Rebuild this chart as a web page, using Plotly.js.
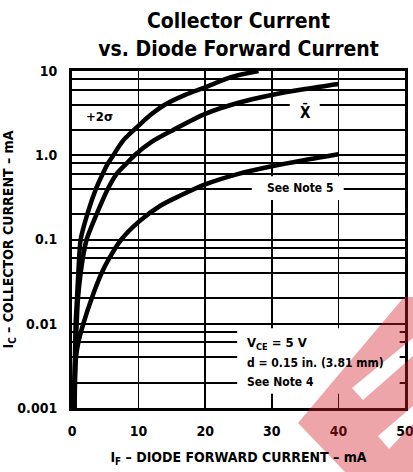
<!DOCTYPE html>
<html>
<head>
<meta charset="utf-8">
<script src="https://cdn.plot.ly/plotly-3.0.1.min.js"></script>
<style>html,body{margin:0;padding:0;background:#fff;}#chart{width:413px;height:472px;}</style>
</head>
<body>
<div id="chart"></div>
<script>
// ---- data ----
const xPlus2Sigma = [0.3, 0.35, 0.45, 0.55, 0.75, 0.95, 1.3, 2.3, 3.6, 4.6, 5.4, 6.2, 7.7, 9.3, 10, 12, 14, 17, 20, 24, 28];
const yPlus2Sigma = [0.001, 0.002, 0.004, 0.01, 0.02, 0.04, 0.1, 0.2, 0.4, 0.6, 0.8, 1.0, 1.5, 2.0, 2.25, 3.1, 4.0, 5.2, 6.4, 8.5, 10];

const xMean = [0.35, 0.4, 0.5, 0.7, 0.9, 1.3, 1.7, 2.2, 3.7, 5.4, 6.7, 8.2, 9.4, 12, 15.2, 20, 25, 30, 35, 40];
const yMean = [0.001, 0.002, 0.004, 0.01, 0.02, 0.04, 0.065, 0.1, 0.2, 0.4, 0.6, 0.8, 1.0, 1.45, 2.0, 3.1, 4.2, 5.2, 6.1, 7.0];

const xNote5 = [0.4, 0.45, 0.6, 0.95, 1.7, 2.95, 4.45, 5.6, 7.4, 10, 13.2, 16.2, 20, 25, 30, 35, 40];
const yNote5 = [0.001, 0.002, 0.004, 0.006, 0.01, 0.02, 0.04, 0.06, 0.1, 0.162, 0.25, 0.33, 0.45, 0.6, 0.74, 0.88, 1.03];

const xTickVals = [0, 10, 20, 30, 40, 50];
const xTickText = ["0", "10", "20", "30", "40", "50"];
const yTickVals = [0.001, 0.01, 0.1, 1, 10];
const yTickText = ["0.001", "0.01", "0.1", "1.0", "10"];
const yGridMinor = [0.002, 0.004, 0.006, 0.008, 0.02, 0.04, 0.06, 0.08, 0.2, 0.4, 0.6, 0.8, 2, 4, 6, 8];

// ---- styling ----
const FONT = "'Liberation Sans Narrow', 'DejaVu Sans Condensed', 'Arial Narrow', sans-serif";
const curve = (x, y, name) => ({
  x: x, y: y, name: name, type: 'scatter', mode: 'lines',
  line: {color: '#000', width: 4.5, shape: 'spline', smoothing: 0.8},
  hoverinfo: 'skip', showlegend: false
});

// watermark polygon in pixel coordinates -> paper coordinates
const L = 72, R = 405, T = 71, B = 408;
const px = (x, y) => ((x - L) / (R - L)).toFixed(4) + ',' + ((B - y) / (B - T)).toFixed(4);
const poly = pts => 'M' + pts.map(p => px(p[0], p[1])).join(' L') + ' Z';
const wmPath = poly([[298,423],[404,297],[413,297],[413,472],[345,472]]) + ' ' +
  poly([[352,388],[413,338],[413,356],[363,400]]) + ' ' +
  poly([[378,436],[413,406],[413,424],[389,449]]);

const data = [
  curve(xPlus2Sigma, yPlus2Sigma, '+2σ'),
  curve(xMean, yMean, 'X̄'),
  curve(xNote5, yNote5, 'See Note 5')
];

const noteFont = (s) => ({family: FONT, size: s, weight: 'bold', color: '#000'});

const layout = {
  width: 413, height: 472,
  margin: {l: L, r: 413 - R, t: T, b: 472 - B},
  paper_bgcolor: '#fff', plot_bgcolor: '#fff',
  font: {family: FONT, color: '#000'},
  title: {
    text: 'Collector Current<br>vs. Diode Forward Current',
    font: {family: FONT, size: 21, weight: 'bold', color: '#000'},
    x: 0.5, xref: 'paper', xanchor: 'center',
    y: 0.94, yref: 'container', yanchor: 'top'
  },
  xaxis: {
    range: [0, 50], tickvals: xTickVals, ticktext: xTickText,
    showgrid: true, gridcolor: '#000', gridwidth: 1.5,
    zeroline: false, showline: true, mirror: true, linecolor: '#000', linewidth: 3,
    ticks: '', ticklabelstandoff: 8, ticklabeloverflow: 'allow',
    tickfont: {family: FONT, size: 14, weight: 'bold', color: '#000'},
    title: {text: 'I<sub>F</sub> – DIODE FORWARD CURRENT – mA', standoff: 15,
            font: {family: FONT, size: 14, weight: 'bold', color: '#000'}}
  },
  yaxis: {
    type: 'log', range: [-3, 1], tickvals: yTickVals, ticktext: yTickText,
    showgrid: true, gridcolor: '#000', gridwidth: 2,
    minor: {tickvals: yGridMinor, showgrid: true, gridcolor: '#000', gridwidth: 2, ticks: ''},
    zeroline: false, showline: true, mirror: true, linecolor: '#000', linewidth: 3,
    ticks: '', ticklabelstandoff: 9,
    tickfont: {family: FONT, size: 14, weight: 'bold', color: '#000'},
    title: {text: 'I<sub>C</sub> – COLLECTOR CURRENT – mA', standoff: 9,
            font: {family: FONT, size: 14, weight: 'bold', color: '#000'}}
  },
  shapes: [
    // white masks behind labels (breaking grid lines like the original)
    {type: 'rect', xref: 'x', yref: 'y domain', x0: 24.8, x1: 49.2, y0: 0.042, y1: 0.237,
     fillcolor: '#fff', line: {width: 0}, layer: 'above'},
    {type: 'rect', xref: 'x', yref: 'y domain', x0: 27, x1: 40.8, y0: 0.617, y1: 0.688,
     fillcolor: '#fff', line: {width: 0}, layer: 'above'},
    {type: 'rect', xref: 'x', yref: 'y domain', x0: 32.7, x1: 37.2, y0: 0.85, y1: 0.92,
     fillcolor: '#fff', line: {width: 0}, layer: 'above'},
    // watermark
    {type: 'path', xref: 'paper', yref: 'paper', path: wmPath, fillrule: 'evenodd',
     fillcolor: 'rgb(210,30,40)', opacity: 0.4, line: {width: 0}, layer: 'above'}
  ],
  annotations: [
    {x: 4.2, y: 0.458, xref: 'x', yref: 'y', text: '+2σ', showarrow: false, font: noteFont(13)},
    {x: 35.0, y: 0.518, xref: 'x', yref: 'y', text: 'X̄', showarrow: false, font: noteFont(15)},
    {x: 34.2, y: -0.387, xref: 'x', yref: 'y', text: 'See Note 5', showarrow: false, font: noteFont(12)},
    {x: 26.1, y: -2.232, xref: 'x', yref: 'y', xanchor: 'left', align: 'left', borderpad: 0,
     text: 'V<sub>CE</sub> = 5 V', showarrow: false, font: noteFont(13)},
    {x: 26.1, y: -2.47, xref: 'x', yref: 'y', xanchor: 'left', align: 'left', borderpad: 0,
     text: 'd = 0.15 in. (3.81 mm)', showarrow: false, font: noteFont(12)},
    {x: 26.1, y: -2.696, xref: 'x', yref: 'y', xanchor: 'left', align: 'left', borderpad: 0,
     text: 'See Note 4', showarrow: false, font: noteFont(12)}
  ]
};

Plotly.newPlot('chart', data, layout, {staticPlot: true, displayModeBar: false});
</script>
</body>
</html>
